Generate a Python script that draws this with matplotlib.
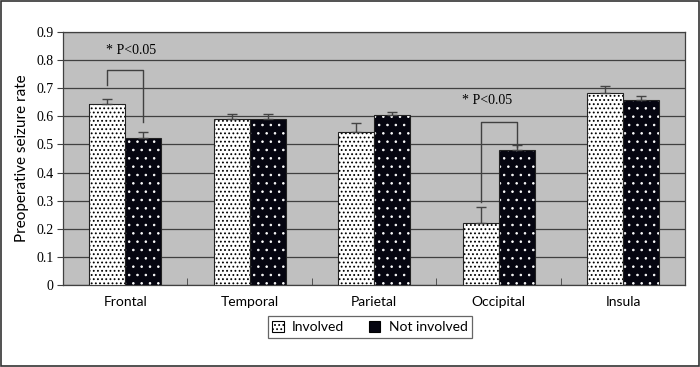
import matplotlib
matplotlib.use("Agg")
import matplotlib.pyplot as plt
import numpy as np

categories = ["Frontal", "Temporal", "Parietal", "Occipital", "Insula"]
involved = [0.645, 0.592, 0.543, 0.220, 0.683]
involved_err = [0.015, 0.018, 0.033, 0.057, 0.025]
not_involved = [0.523, 0.592, 0.603, 0.482, 0.657]
not_involved_err = [0.020, 0.015, 0.012, 0.015, 0.016]
yticks = [0, 0.1, 0.2, 0.3, 0.4, 0.5, 0.6, 0.7, 0.8, 0.9]

fig = plt.figure(figsize=(7.0, 3.67), dpi=100)
ax = fig.add_axes([0.09, 0.2234, 0.889, 0.6894])
ax.set_facecolor("#c0c0c0")

x = np.arange(len(categories))
w = 0.29

# Involved: white with black dots
plt.rcParams['hatch.linewidth'] = 0.8
plt.rcParams['hatch.color'] = 'black'
ax.bar(x - w/2, involved, w, color="white", edgecolor="black", hatch="....", linewidth=0, zorder=3)
ax.bar(x - w/2, involved, w, fill=False, edgecolor="#222222", linewidth=0.8, zorder=4)
# Not involved: black with white dots
plt.rcParams['hatch.linewidth'] = 0.6
ax.bar(x + w/2, not_involved, w, color="#050510", edgecolor="white", hatch="..", linewidth=0, zorder=3)
ax.bar(x + w/2, not_involved, w, fill=False, edgecolor="#222222", linewidth=0.8, zorder=4)

ax.errorbar(x - w/2, involved, yerr=[np.zeros(5), involved_err], fmt="none",
            ecolor="#444444", elinewidth=1, capsize=3.5, capthick=1, zorder=5)
ax.errorbar(x + w/2, not_involved, yerr=[np.zeros(5), not_involved_err], fmt="none",
            ecolor="#444444", elinewidth=1, capsize=3.5, capthick=1, zorder=5)

ax.set_xlim(-0.5, 4.5)
ax.set_ylim(0, 0.9)
ax.set_yticks(yticks)
ax.set_yticklabels([f"{t:g}" for t in yticks], fontfamily="Liberation Serif", fontsize=10)
ax.yaxis.grid(True, color="#404040", linewidth=0.9, zorder=1)
ax.set_axisbelow(True)
ax.tick_params(axis="y", direction="out", length=4, color="#404040", pad=3)

ax.set_xticks(x)
ax.set_xticklabels(categories, fontfamily="Lato", fontsize=10)
ax.tick_params(axis="x", length=0, pad=8)
ax.set_xticks(np.arange(0.5, 4.5, 1), minor=True)
ax.tick_params(axis="x", which="minor", direction="in", length=5, color="#404040")

for s in ax.spines.values():
    s.set_color("#404040")
    s.set_linewidth(0.9)

ax.set_ylabel("Preoperative seizure rate", fontfamily="Lato", fontsize=11, labelpad=5)

# significance brackets
bc = "#404040"
# Frontal
ax.plot([x[0]-w/2, x[0]-w/2, x[0]+w/2, x[0]+w/2], [0.71, 0.765, 0.765, 0.58], color=bc, lw=1, zorder=6)
ax.text(x[0]+0.05, 0.835, "* P<0.05", fontfamily="Liberation Serif", fontsize=10,
        ha="center", va="center", zorder=7)
# Occipital
ax.plot([x[3]-w/2, x[3]-w/2, x[3]+w/2, x[3]+w/2], [0.295, 0.58, 0.58, 0.49], color=bc, lw=1, zorder=6)
ax.text(x[3]-0.09, 0.655, "* P<0.05", fontfamily="Liberation Serif", fontsize=10,
        ha="center", va="center", zorder=7)

# Legend
from matplotlib.patches import Patch
plt.rcParams['hatch.linewidth'] = 0.8
h1 = Patch(facecolor="white", edgecolor="black", hatch="....", linewidth=0.8)
h2 = Patch(facecolor="#050510", edgecolor="black", linewidth=0.8)
leg = fig.legend([h1, h2], ["Involved", "Not involved"], loc="center",
                 bbox_to_anchor=(370/700, 1-327/367), ncol=2, frameon=True, fancybox=False,
                 edgecolor="#404040", prop={"family": "Lato", "size": 10},
                 handlelength=0.8, handleheight=0.8, columnspacing=1.8, handletextpad=0.6,
                 borderpad=0.35)
leg.get_frame().set_linewidth(0.9)

# outer border
fig.patches.append(plt.Rectangle((0.001, 0.002), 0.997, 0.996, transform=fig.transFigure,
                                 fill=False, edgecolor="#333333", linewidth=1.2))

fig.savefig("out.png", dpi=100)
